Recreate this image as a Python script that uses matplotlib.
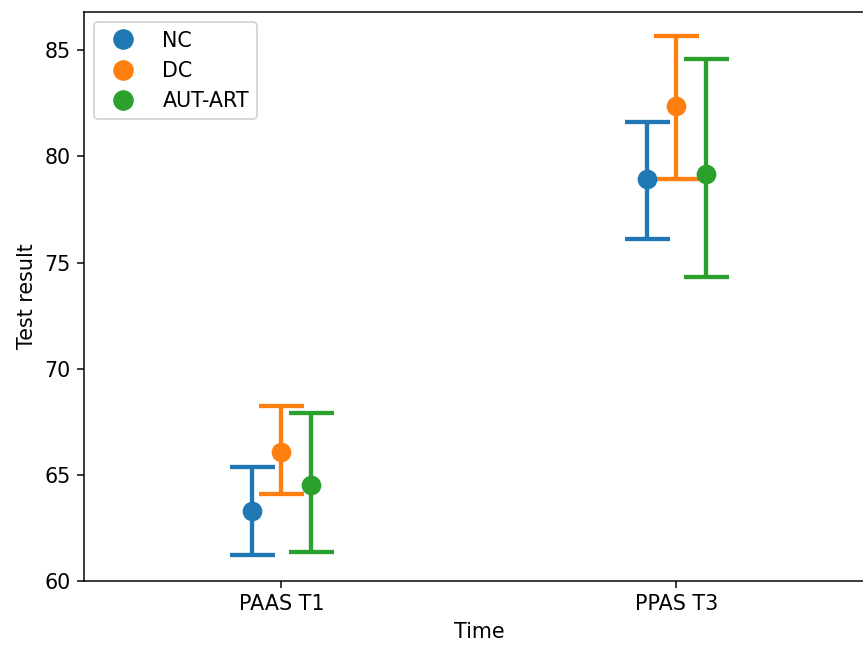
import numpy as np
import matplotlib.pyplot as plt
from matplotlib.lines import Line2D

plt.rcParams['font.size'] = 11

# Data
times = ['PAAS T1', 'PPAS T3']
groups = ['NC', 'DC', 'AUT-ART']
colors = ['#1f77b4', '#ff7f0e', '#2ca02c']

means = {
    'NC': [63.31, 78.93],
    'DC': [66.08, 82.38],
    'AUT-ART': [64.52, 79.18],
}
ci_low = {
    'NC': [61.22, 76.12],
    'DC': [64.08, 78.93],
    'AUT-ART': [61.35, 74.34],
}
ci_high = {
    'NC': [65.35, 81.62],
    'DC': [68.22, 85.68],
    'AUT-ART': [67.91, 84.60],
}

offsets = [-0.075, 0.0, 0.075]

fig = plt.figure(figsize=(863 / 135, 646 / 135), dpi=135)
ax = fig.add_axes([0.0973, 0.1006, 0.9154, 0.8808])

x = np.arange(len(times))
handles = []
for g, col, off in zip(groups, colors, offsets):
    m = np.array(means[g])
    lo = m - np.array(ci_low[g])
    hi = np.array(ci_high[g]) - m
    ax.errorbar(x + off, m, yerr=[lo, hi], fmt='o', color=col,
                markersize=9.5, elinewidth=2.3, capsize=12, capthick=2.3)
    handles.append(Line2D([], [], linestyle='', marker='o', color=col,
                          markersize=10, label=g))

ax.set_xticks(x)
ax.set_xticklabels(times)
ax.set_xlim(-0.5, 1.5)
ax.set_ylim(60, 86.8)
ax.set_xlabel('Time')
ax.set_ylabel('Test result')
ax.legend(handles=handles, loc='upper left', handletextpad=0.9)

fig.savefig('out.png', dpi=135)
